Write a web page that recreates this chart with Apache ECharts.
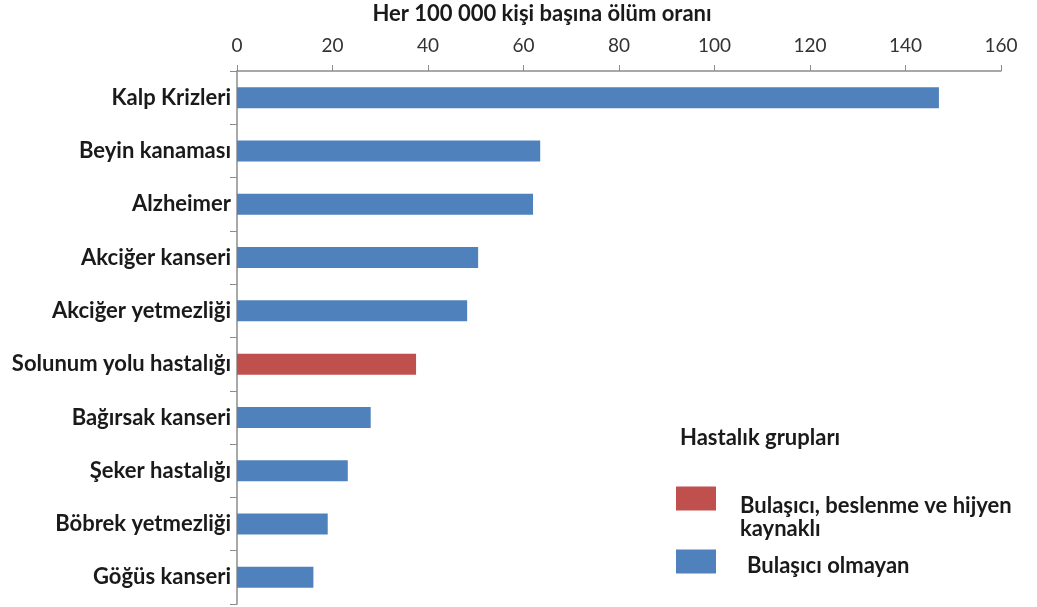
<!DOCTYPE html>
<html><head><meta charset="utf-8">
<script src="https://cdn.jsdelivr.net/npm/echarts@6/dist/echarts.min.js"></script>
<style>html,body{margin:0;padding:0;background:#fff}#c{width:1037px;height:607px}</style>
</head><body><div id="c"></div>
<script>
const categories = ['Kalp Krizleri','Beyin kanaması','Alzheimer','Akciğer kanseri','Akciğer yetmezliği','Solunum yolu hastalığı','Bağırsak kanseri','Şeker hastalığı','Böbrek yetmezliği','Göğüs kanseri'];
const values = [147, 63.5, 62, 50.5, 48.2, 37.5, 28, 23.2, 19, 16];
const groups = ['N','N','N','N','N','C','N','N','N','N'];
const seriesNames = ['Bulaşıcı, beslenme ve hijyen\nkaynaklı','Bulaşıcı olmayan'];
const xTicks = [0,20,40,60,80,100,120,140,160];
const axisTitle = 'Her 100 000 kişi başına ölüm oranı';
const legendTitle = 'Hastalık grupları';

const commData = values.map((v,i)=> groups[i]==='C' ? v : '-');
const nonData = values.map((v,i)=> groups[i]==='N' ? v : '-');
const FONT = 'Lato';
const txt = '#1a1a1a';

const chart = echarts.init(document.getElementById('c'));
chart.setOption({
  animation:false,
  textStyle:{fontFamily:FONT},
  grid:{left:237,right:36,top:71,bottom:3},
  xAxis:{
    type:'value', position:'top', min:xTicks[0], max:xTicks[xTicks.length-1], interval:20,
    axisLine:{show:true,lineStyle:{color:'#8c8c8c',width:1.5}},
    axisTick:{show:true,inside:false,length:6,lineStyle:{color:'#8c8c8c'}},
    axisLabel:{fontFamily:FONT,fontSize:19,color:'#333',margin:16},
    splitLine:{show:false}
  },
  yAxis:{
    type:'category', data:categories, inverse:true,
    axisLine:{show:true,lineStyle:{color:'#8c8c8c',width:1.5}},
    axisTick:{show:true,length:7,lineStyle:{color:'#8c8c8c'}},
    axisLabel:{fontFamily:FONT,fontWeight:'bold',fontSize:22,color:txt,margin:6}
  },
  legend:[
    {data:[seriesNames[0]],left:671,top:452,itemWidth:40,itemHeight:24,
     icon:'rect',selectedMode:false,
     formatter:n=>'{s|}\n'+n,
     textStyle:{fontFamily:FONT,fontWeight:'bold',fontSize:22,color:txt,lineHeight:23,padding:[0,0,0,19],
       rich:{s:{lineHeight:37,fontSize:1}}}},
    {data:[seriesNames[1]],left:671,top:541,itemWidth:40,itemHeight:24,
     icon:'rect',selectedMode:false,
     formatter:n=>'{s|}\n'+n,
     textStyle:{fontFamily:FONT,fontWeight:'bold',fontSize:22,color:txt,lineHeight:23,padding:[0,0,0,26],
       rich:{s:{lineHeight:8,fontSize:1}}}}
  ],
  graphic:[
    {type:'text',x:542,y:14,style:{text:axisTitle,font:'bold 22px Lato',fill:txt,textAlign:'center',textVerticalAlign:'middle'}},
    {type:'text',x:680,y:438,style:{text:legendTitle,font:'bold 22px Lato',fill:txt,textVerticalAlign:'middle'}}
  ],
  series:[
    {name:seriesNames[0],type:'bar',stack:'s',data:commData,barWidth:21,itemStyle:{color:'#C0504D'}},
    {name:seriesNames[1],type:'bar',stack:'s',data:nonData,barWidth:21,itemStyle:{color:'#4F81BD'}}
  ]
});
</script></body></html>
